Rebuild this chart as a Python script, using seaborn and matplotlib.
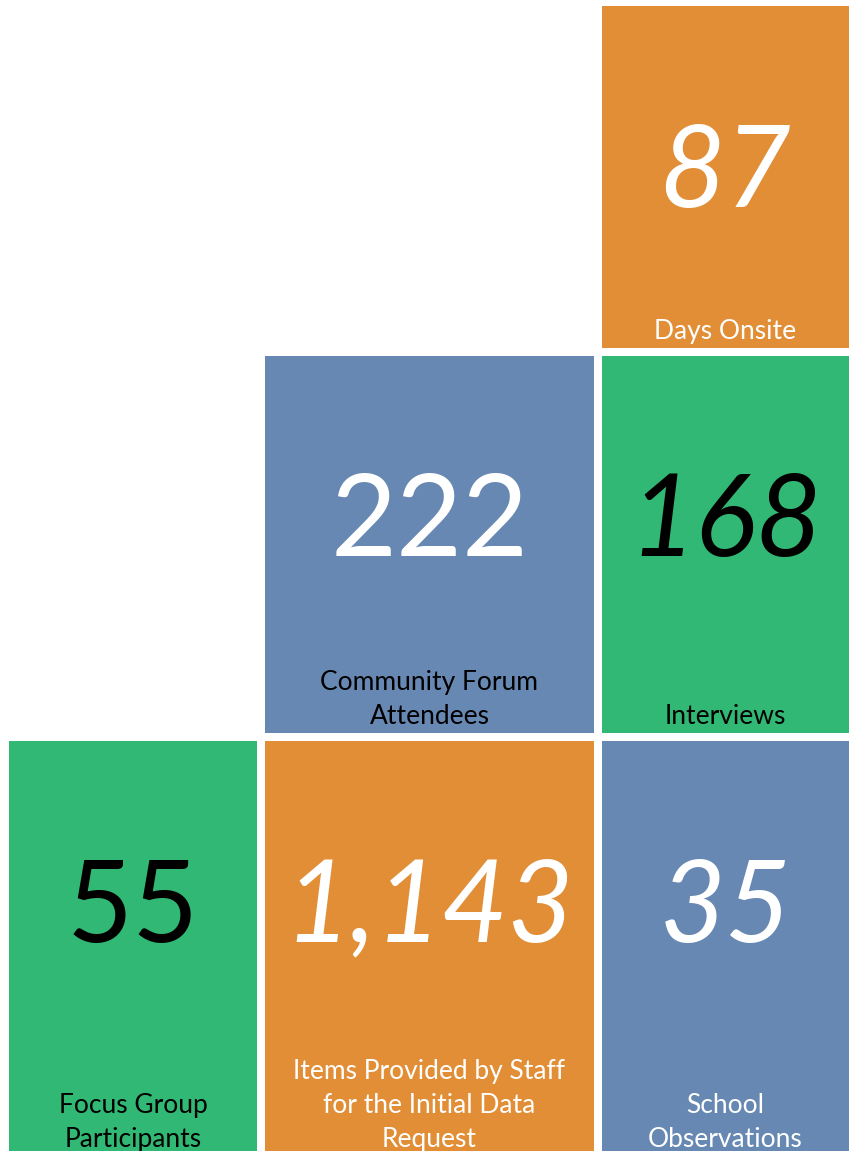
import matplotlib.pyplot as plt
import seaborn as sns

# --- Data ---
values = ["87", "222", "168", "55", "1,143", "35"]
labels = ["Days Onsite",
          "Community Forum\nAttendees",
          "Interviews",
          "Focus Group\nParticipants",
          "Items Provided by Staff\nfor the Initial Data\nRequest",
          "School\nObservations"]

# --- Styles ---
ORANGE, BLUE, GREEN = "#E18E36", "#6788B2", "#31B874"
tile_colors = [ORANGE, BLUE, GREEN, GREEN, ORANGE, BLUE]
number_colors = ["white", "white", "black", "black", "white", "white"]
label_colors = ["white", "black", "black", "black", "white", "white"]
number_styles = ["italic", "normal", "italic", "normal", "italic", "italic"]

# --- Layout (pixel grid, y grows downward) ---
col_edges = [(9, 257), (265, 594), (602, 849)]
row_edges = [(6, 348), (356, 733), (741, 1156)]
tile_cells = [(2, 0), (1, 1), (2, 1), (0, 2), (1, 2), (2, 2)]  # (col, row)
number_y = [175, 524, 524, 910, 910, 910]

sns.set_theme(style="white")
plt.rcParams['font.family'] = ['Lato', 'DejaVu Sans']

fig = plt.figure(figsize=(8.49, 11.51), dpi=100)
ax = fig.add_axes([0, 0, 1, 1])
ax.set_xlim(0, 849)
ax.set_ylim(1151, 0)
ax.set_axis_off()

for i, (c, r) in enumerate(tile_cells):
    x0, x1 = col_edges[c]
    y0, y1 = row_edges[r]
    ax.bar((x0 + x1) / 2, y1 - y0, width=x1 - x0, bottom=y0,
           color=tile_colors[i], linewidth=0)
    ax.text((x0 + x1) / 2, number_y[i], values[i], ha='center', va='center',
            fontsize=82, style=number_styles[i], color=number_colors[i])
    ax.text((x0 + x1) / 2, y1 - 4, labels[i], ha='center', va='bottom',
            fontsize=19, color=label_colors[i], linespacing=1.45)

fig.savefig("out.png", dpi=100)
plt.close(fig)
